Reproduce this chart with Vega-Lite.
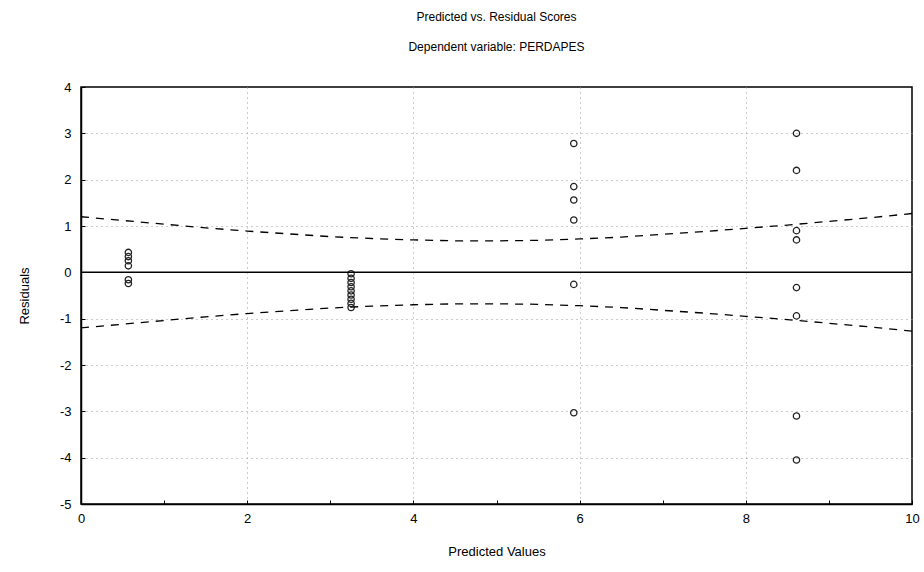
{
  "$schema": "https://vega.github.io/schema/vega-lite/v6.json",
  "width": 831,
  "height": 417,
  "autosize": "none",
  "padding": {"left": 81, "top": 87, "right": 12, "bottom": 68},
  "background": "white",
  "config": {
    "font": "Liberation Sans",
    "view": {"stroke": "black", "strokeWidth": 1.5},
    "axis": {
      "domainColor": "black",
      "domainWidth": 1.5,
      "tickColor": "black",
      "labelColor": "black",
      "titleColor": "black",
      "labelFont": "Liberation Sans",
      "titleFont": "Liberation Sans",
      "labelFontSize": 13,
      "titleFontSize": 13,
      "titleFontWeight": "normal",
      "gridColor": "#999999",
      "gridDash": [1, 4],
      "gridWidth": 1
    }
  },
  "title": {
    "text": "Predicted vs. Residual Scores",
    "subtitle": "Dependent variable: PERDAPES",
    "fontSize": 12,
    "fontWeight": "normal",
    "subtitleFontSize": 12,
    "subtitleColor": "black",
    "color": "black",
    "font": "Liberation Sans",
    "subtitleFont": "Liberation Sans",
    "subtitlePadding": 18,
    "anchor": "middle",
    "offset": 27
  },
  "datasets": {
    "pts": [
      {"pred": 0.57, "resid": 0.43},
      {"pred": 0.57, "resid": 0.34},
      {"pred": 0.57, "resid": 0.25},
      {"pred": 0.57, "resid": 0.14},
      {"pred": 0.57, "resid": -0.16},
      {"pred": 0.57, "resid": -0.24},
      {"pred": 3.25, "resid": -0.03},
      {"pred": 3.25, "resid": -0.13},
      {"pred": 3.25, "resid": -0.22},
      {"pred": 3.25, "resid": -0.31},
      {"pred": 3.25, "resid": -0.4},
      {"pred": 3.25, "resid": -0.49},
      {"pred": 3.25, "resid": -0.58},
      {"pred": 3.25, "resid": -0.67},
      {"pred": 3.25, "resid": -0.76},
      {"pred": 5.93, "resid": 2.78},
      {"pred": 5.93, "resid": 1.85},
      {"pred": 5.93, "resid": 1.56},
      {"pred": 5.93, "resid": 1.13},
      {"pred": 5.93, "resid": -0.26},
      {"pred": 5.93, "resid": -3.03},
      {"pred": 8.61, "resid": 3.0},
      {"pred": 8.61, "resid": 2.2},
      {"pred": 8.61, "resid": 0.9},
      {"pred": 8.61, "resid": 0.7},
      {"pred": 8.61, "resid": -0.33},
      {"pred": 8.61, "resid": -0.94},
      {"pred": 8.61, "resid": -3.1},
      {"pred": 8.61, "resid": -4.05}
    ],
    "band": [
      {"x": 0, "hi": 1.2, "lo": -1.2},
      {"x": 0.5, "hi": 1.12, "lo": -1.12},
      {"x": 1, "hi": 1.04, "lo": -1.04},
      {"x": 1.5, "hi": 0.96, "lo": -0.96},
      {"x": 2, "hi": 0.89, "lo": -0.89},
      {"x": 2.5, "hi": 0.83, "lo": -0.83},
      {"x": 3, "hi": 0.77, "lo": -0.77},
      {"x": 3.5, "hi": 0.73, "lo": -0.73},
      {"x": 4, "hi": 0.7, "lo": -0.7},
      {"x": 4.5, "hi": 0.68, "lo": -0.68},
      {"x": 5, "hi": 0.68, "lo": -0.68},
      {"x": 5.5, "hi": 0.69, "lo": -0.69},
      {"x": 6, "hi": 0.72, "lo": -0.72},
      {"x": 6.5, "hi": 0.76, "lo": -0.76},
      {"x": 7, "hi": 0.82, "lo": -0.82},
      {"x": 7.5, "hi": 0.88, "lo": -0.88},
      {"x": 8, "hi": 0.95, "lo": -0.95},
      {"x": 8.5, "hi": 1.02, "lo": -1.02},
      {"x": 9, "hi": 1.1, "lo": -1.1},
      {"x": 9.5, "hi": 1.18, "lo": -1.18},
      {"x": 10, "hi": 1.27, "lo": -1.27}
    ],
    "zero": [{"y": 0}]
  },
  "layer": [
    {
      "data": {"name": "pts"},
      "mark": {"type": "point", "shape": "circle", "filled": false, "size": 40, "color": "#222222", "strokeWidth": 1.3, "opacity": 1},
      "encoding": {
        "x": {
          "field": "pred", "type": "quantitative",
          "scale": {"domain": [0, 10], "nice": false, "zero": false},
          "axis": {
            "title": "Predicted Values",
            "titlePadding": 20,
            "values": [0, 1, 2, 3, 4, 5, 6, 7, 8, 9, 10],
            "labelExpr": "datum.value % 2 == 0 ? '' + datum.value : ''",
            "tickSize": -4,
            "labelPadding": 12,
            "labelFlush": false,
            "gridOpacity": {"condition": {"test": "datum.value % 2 == 0 && datum.value > 0 && datum.value < 10", "value": 1}, "value": 0}
          }
        },
        "y": {
          "field": "resid", "type": "quantitative",
          "scale": {"domain": [-5, 4], "nice": false, "zero": false},
          "axis": {
            "title": "Residuals",
            "titlePadding": 28,
            "values": [-5, -4.75, -4.5, -4.25, -4, -3.75, -3.5, -3.25, -3, -2.75, -2.5, -2.25, -2, -1.75, -1.5, -1.25, -1, -0.75, -0.5, -0.25, 0, 0.25, 0.5, 0.75, 1, 1.25, 1.5, 1.75, 2, 2.25, 2.5, 2.75, 3, 3.25, 3.5, 3.75, 4],
            "labelExpr": "datum.value % 1 == 0 ? '' + datum.value : ''",
            "tickSize": -4,
            "labelPadding": 14,
            "labelFlush": false,
            "gridOpacity": {"condition": {"test": "datum.value % 1 == 0 && datum.value > -5 && datum.value < 4", "value": 1}, "value": 0}
          }
        }
      }
    },
    {
      "data": {"name": "band"},
      "mark": {"type": "line", "color": "black", "strokeWidth": 1.3, "strokeDash": [8, 7]},
      "encoding": {"x": {"field": "x", "type": "quantitative"}, "y": {"field": "hi", "type": "quantitative"}}
    },
    {
      "data": {"name": "band"},
      "mark": {"type": "line", "color": "black", "strokeWidth": 1.3, "strokeDash": [8, 7]},
      "encoding": {"x": {"field": "x", "type": "quantitative"}, "y": {"field": "lo", "type": "quantitative"}}
    },
    {
      "data": {"name": "zero"},
      "mark": {"type": "rule", "color": "black", "strokeWidth": 1.5},
      "encoding": {"y": {"field": "y", "type": "quantitative"}}
    }
  ]
}
